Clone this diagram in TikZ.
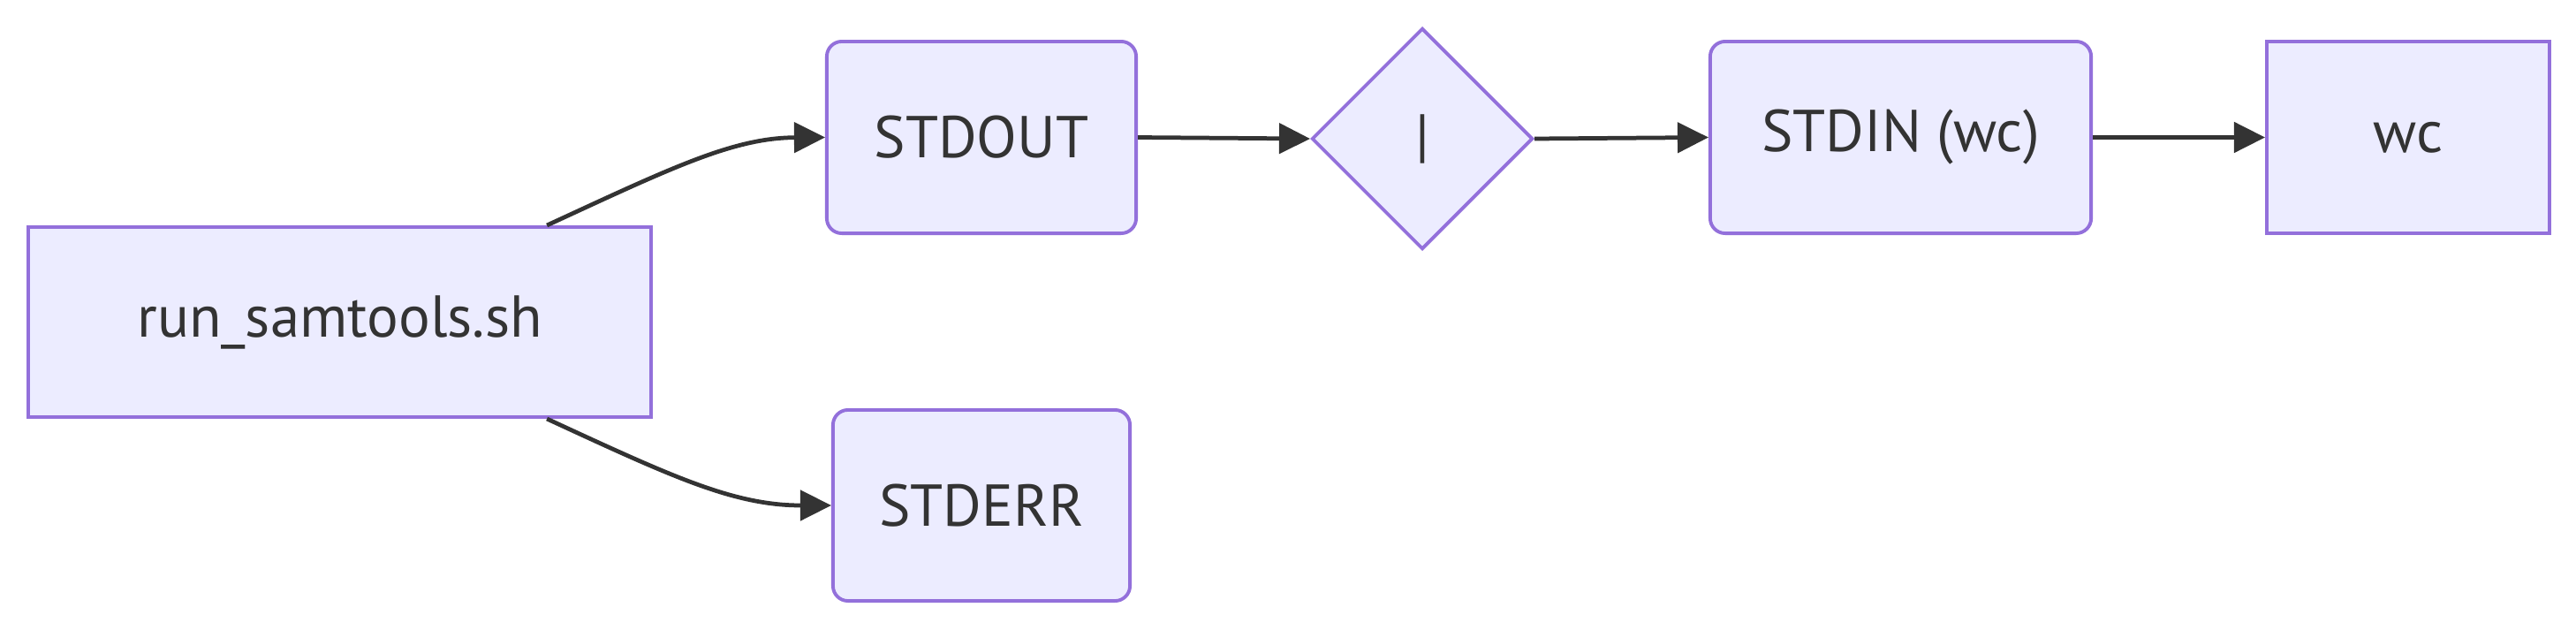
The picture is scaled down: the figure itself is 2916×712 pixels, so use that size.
\documentclass[tikz,border=0pt]{standalone}
\usepackage{fontspec}
\setmainfont{PT Sans}
\usetikzlibrary{shapes.geometric,arrows.meta}
\definecolor{nodefill}{HTML}{ECECFF}
\definecolor{nodeborder}{HTML}{9370DB}
\definecolor{ink}{HTML}{333333}
\begin{document}
\begin{tikzpicture}[x=0.01cm,y=-0.01cm,
  box/.style={draw=nodeborder, fill=nodefill, line width=1.1pt, text=ink,
    font=\fontsize{19}{22}\selectfont, inner sep=0pt},
  rbox/.style={box, rounded corners=0.17cm},
  dia/.style={box, diamond, minimum width=2.5cm, minimum height=2.5cm},
  link/.style={draw=ink, line width=1.35pt, -{Triangle[length=0.35cm,width=0.34cm]}}]
\path[use as bounding box, fill=white] (0,0) rectangle (2916,712);
\node[box, minimum width=7.05cm, minimum height=2.15cm] (run) at (384.5,364.5) {run\_samtools.sh};
\node[rbox, minimum width=3.5cm, minimum height=2.17cm] (out) at (1111,155.5) {STDOUT};
\node[rbox, minimum width=3.36cm, minimum height=2.16cm] (err) at (1111,572) {STDERR};
\node[dia] (pipe) at (1610,157) {|};
\node[rbox, minimum width=4.31cm, minimum height=2.17cm] (in) at (2151.5,155.5) {STDIN (wc)};
\node[box, minimum width=3.2cm, minimum height=2.17cm] (wc) at (2726,155.5) {wc};
\draw[link] ([xshift=2.345cm]run.north) .. controls (760,190) and (830,156) .. (out.west);
\draw[link] ([xshift=2.345cm]run.south) .. controls (760,539) and (830,572) .. (err.west);
\draw[link] (out.east) -- (pipe.west);
\draw[link] (pipe.east) -- (in.west);
\draw[link] (in.east) -- (wc.west);
\end{tikzpicture}
\end{document}
